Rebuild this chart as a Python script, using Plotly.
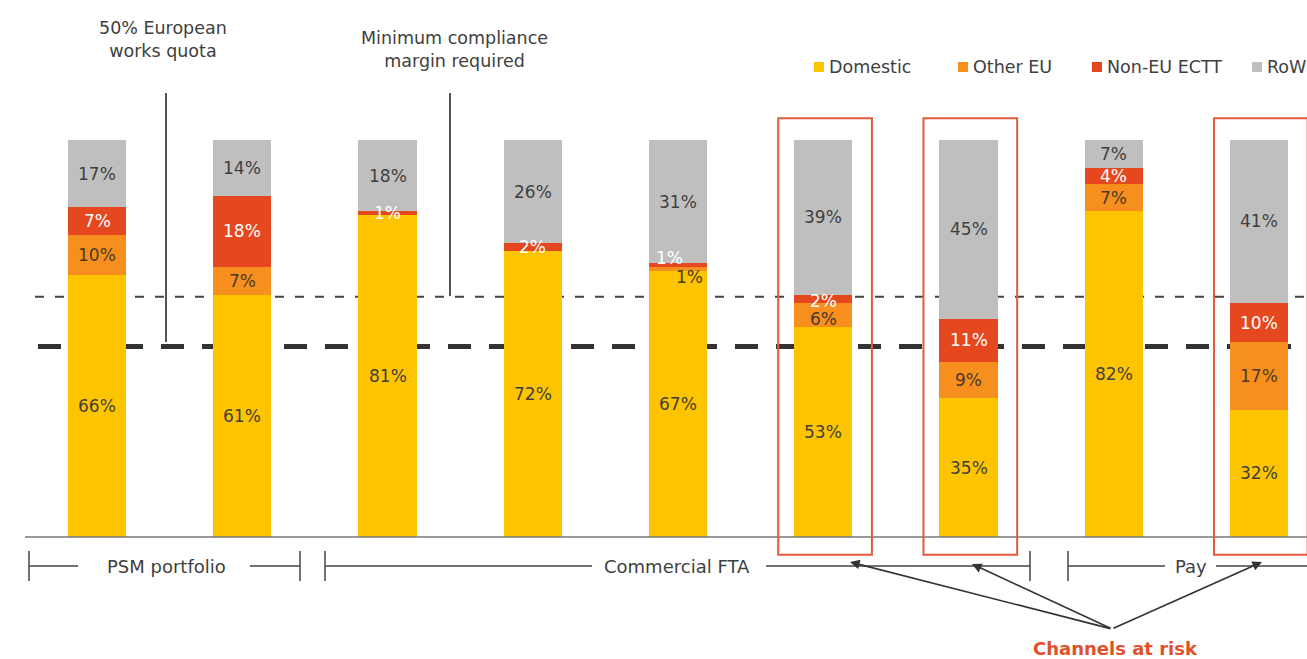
import plotly.graph_objects as go

# ---------------- data ----------------
categories = ["PSM 1", "PSM 2", "FTA 1", "FTA 2", "FTA 3", "FTA 4", "FTA 5", "Pay 1", "Pay 2"]
domestic = [66, 61, 81, 72, 67, 53, 35, 82, 32]
other_eu = [10, 7, 0, 0, 1, 6, 9, 7, 17]
non_eu_ectt = [7, 18, 1, 2, 1, 2, 11, 4, 10]
row = [17, 14, 18, 26, 31, 39, 45, 7, 41]
series_names = ["Domestic", "Other EU", "Non-EU ECTT", "RoW"]

quota_line = 48          # "50% European works quota" reference line
margin_line = 60.5       # "Minimum compliance margin required" line
at_risk = [5, 6, 8]      # indices of channels at risk

# ---------------- style ----------------
W, H = 1307, 659
FONT = "DejaVu Sans"
colors = ["#FFC400", "#F78F1E", "#E5481F", "#BFBFBF"]
label_colors = ["#3f3f3f", "#4a3a2a", "#ffffff", "#3f3f3f"]
RED = "#E05A3C"
DARK = "#404040"

def X(px):
    return px / W

def Y(py):
    return 1 - py / H

fig = go.Figure()
all_series = [domestic, other_eu, non_eu_ectt, row]
for name, vals, col in zip(series_names, all_series, colors):
    fig.add_trace(go.Bar(
        x=categories, y=vals, name=name, marker=dict(color=col, line=dict(width=0)),
        width=0.40, showlegend=False,
        hovertemplate="%{x}<br>" + name + ": %{y}%<extra></extra>",
    ))

def note(x, y, text, size, color=DARK, xanchor="center"):
    return dict(x=X(x), y=Y(y), xref="paper", yref="paper", text=text, showarrow=False,
                xanchor=xanchor, yanchor="middle", align="center",
                font=dict(family=FONT, size=size, color=color))

# segment labels
label_shift = {(4, 2): (-9, 7), (4, 1): (11, -8), (5, 1): (0, -4), (5, 2): (0, -2)}
annotations = []
for i, cat in enumerate(categories):
    base = 0
    for s, vals in enumerate(all_series):
        v = vals[i]
        if v > 0:
            dx, dy = label_shift.get((i, s), (0, 0))
            annotations.append(dict(
                x=cat, y=base + v / 2, xref="x", yref="y", text=f"{v}%",
                showarrow=False, xshift=dx, yshift=dy, xanchor="center", yanchor="middle",
                font=dict(family=FONT, size=17, color=label_colors[s]),
            ))
        base += v

shapes = []
# reference dashed lines (behind bars)
shapes.append(dict(type="line", xref="paper", yref="y", x0=X(35), x1=1, y0=margin_line, y1=margin_line,
                   line=dict(color="#444444", width=2, dash="9px,11px"), layer="below"))
shapes.append(dict(type="line", xref="paper", yref="y", x0=X(38), x1=1, y0=quota_line, y1=quota_line,
                   line=dict(color="#333333", width=5, dash="23px,18px"), layer="below"))
# baseline
shapes.append(dict(type="line", xref="paper", yref="y", x0=X(25), x1=1, y0=0, y1=0,
                   line=dict(color="#777777", width=1.5)))
# pointer lines from the two notes
shapes.append(dict(type="line", xref="paper", yref="paper", x0=X(166), x1=X(166), y0=Y(93), y1=Y(342),
                   line=dict(color="#555555", width=2), layer="below"))
shapes.append(dict(type="line", xref="paper", yref="paper", x0=X(450), x1=X(450), y0=Y(93), y1=Y(296),
                   line=dict(color="#555555", width=2), layer="below"))
# red boxes around channels at risk
for i in at_risk:
    shapes.append(dict(type="rect", xref="x", yref="y", x0=i - 0.31, x1=i + 0.335, y0=-4.5, y1=105.5,
                       line=dict(color=RED, width=2), fillcolor="rgba(0,0,0,0)"))

# notes
annotations.append(note(163, 39, "50% European<br>works quota", 17.5))
annotations.append(note(454, 49, "Minimum compliance<br>margin required", 17.5))

# manual legend
legend_x = [814, 958, 1092, 1252]
for name, col, lx in zip(series_names, colors, legend_x):
    shapes.append(dict(type="rect", xref="paper", yref="paper", x0=X(lx), x1=X(lx + 10), y0=Y(72), y1=Y(62),
                       fillcolor=col, line=dict(width=0)))
    annotations.append(note(lx + 13, 67, name, 17.5, xanchor="left"))

# group brackets
bracket_y = 566
bracket_specs = [
    ("PSM portfolio", 29, 300, 78, 250, 166, True),
    ("Commercial FTA", 325, 1030, 592, 766, 677, True),
    ("Pay", 1068, 1307, 1165, 1216, 1191, False),
]
for text, left, right, gl, gr, cx, right_tick in bracket_specs:
    for a, b in [(left, gl), (gr, right)]:
        shapes.append(dict(type="line", xref="paper", yref="paper", x0=X(a), x1=X(b), y0=Y(bracket_y), y1=Y(bracket_y),
                           line=dict(color="#444444", width=1.5)))
    ticks = [left, right] if right_tick else [left]
    for t in ticks:
        shapes.append(dict(type="line", xref="paper", yref="paper", x0=X(t), x1=X(t), y0=Y(551), y1=Y(581),
                           line=dict(color="#444444", width=1.5)))
    annotations.append(note(cx, bracket_y, text, 18))

# arrows to channels at risk
apex = (1112, 629)
heads = [(850, 562), (972, 564), (1262, 562)]
for hx, hy in heads:
    annotations.append(dict(x=X(hx), y=Y(hy), xref="paper", yref="paper", ax=apex[0] - hx, ay=apex[1] - hy,
                            axref="pixel", ayref="pixel", text="", showarrow=True, arrowhead=2, arrowsize=1.2,
                            arrowwidth=1.6, arrowcolor="#333333"))
annotations.append(note(1115, 648, "<b>Channels at risk</b>", 18, color="#E0502A"))

k = 3.97
y0 = -(H - 537) / k
y1 = y0 + H / k
xmin = -97 / 145.25
xmax = xmin + W / 145.25

fig.update_layout(
    barmode="stack", width=W, height=H, autosize=False,
    margin=dict(l=0, r=0, t=0, b=0), paper_bgcolor="white", plot_bgcolor="white",
    xaxis=dict(range=[xmin, xmax], visible=False, type="category"),
    yaxis=dict(range=[y0, y1], visible=False),
    shapes=shapes, annotations=annotations, showlegend=False,
    font=dict(family=FONT),
)

fig.write_html("out.html", config={"displayModeBar": False},
               post_script="document.body.style.margin='0';document.body.style.overflow='hidden';")
